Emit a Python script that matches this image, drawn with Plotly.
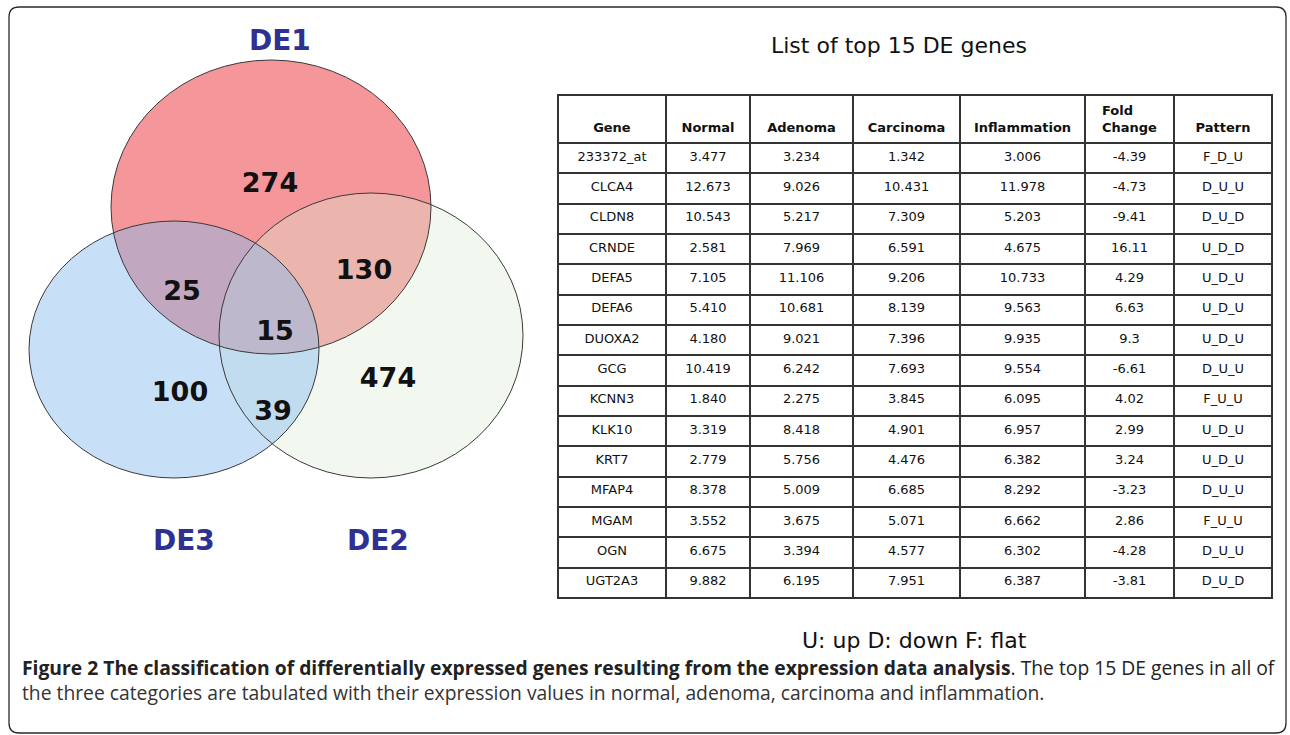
import plotly.graph_objects as go

# ---------------- data ----------------
set_names = ["DE1", "DE2", "DE3"]
region_names = ["DE1 only", "DE1&DE2", "DE1&DE3", "DE1&DE2&DE3", "DE2 only", "DE3 only", "DE2&DE3"]
region_counts = [274, 130, 25, 15, 474, 100, 39]

table_title = "List of top 15 DE genes"
legend_text = "U: up D: down F: flat"
col_headers = ["Gene", "Normal", "Adenoma", "Carcinoma", "Inflammation", "Fold<br>Change", "Pattern"]

genes = ["233372_at", "CLCA4", "CLDN8", "CRNDE", "DEFA5", "DEFA6", "DUOXA2", "GCG",
         "KCNN3", "KLK10", "KRT7", "MFAP4", "MGAM", "OGN", "UGT2A3"]
normal = [3.477, 12.673, 10.543, 2.581, 7.105, 5.410, 4.180, 10.419, 1.840, 3.319, 2.779, 8.378, 3.552, 6.675, 9.882]
adenoma = [3.234, 9.026, 5.217, 7.969, 11.106, 10.681, 9.021, 6.242, 2.275, 8.418, 5.756, 5.009, 3.675, 3.394, 6.195]
carcinoma = [1.342, 10.431, 7.309, 6.591, 9.206, 8.139, 7.396, 7.693, 3.845, 4.901, 4.476, 6.685, 5.071, 4.577, 7.951]
inflammation = [3.006, 11.978, 5.203, 4.675, 10.733, 9.563, 9.935, 9.554, 6.095, 6.957, 6.382, 8.292, 6.662, 6.302, 6.387]
fold_change = [-4.39, -4.73, -9.41, 16.11, 4.29, 6.63, 9.3, -6.61, 4.02, 2.99, 3.24, -3.23, 2.86, -4.28, -3.81]
pattern = ["F_D_U", "D_U_U", "D_U_D", "U_D_D", "U_D_U", "U_D_U", "U_D_U", "D_U_U",
           "F_U_U", "U_D_U", "U_D_U", "D_U_U", "F_U_U", "D_U_U", "D_U_D"]

caption_bold = "Figure 2 The classification of differentially expressed genes resulting from the expression data analysis"
caption_rest1 = ". The top 15 DE genes in all of"
caption_line2 = "the three categories are tabulated with their expression values in normal, adenoma, carcinoma and inflammation."

# ---------------- layout (pixel space) ----------------
W, H = 1290, 735
ellipse_boxes = {  # x0, y0, x1, y1
    "DE1": (111, 60, 431, 354),
    "DE2": (219, 193, 523, 478),
    "DE3": (29, 221, 319, 478),
}
ellipse_fill = {
    "DE1": "rgba(244,150,154,1)",
    "DE2": "rgba(220,236,212,0.36)",
    "DE3": "rgba(136,188,238,0.46)",
}
draw_order = ["DE1", "DE2", "DE3"]
set_label_pos = {"DE1": (280, 40), "DE2": (378, 540), "DE3": (184, 540)}
region_pos = [(270, 185), (364, 272), (182, 293), (275, 333), (388, 380), (180, 394), (273, 413)]

table_x = (558, 1272)
table_y = (95, 597)
col_widths = [108, 84, 103, 107, 125, 89, 98]
header_h = 47
row_h = (table_y[1] - table_y[0] - header_h) / len(genes)

fig = go.Figure()

shapes = []
# outer rounded frame
r = 10
x0, y0, x1, y1 = 9, 7, 1286, 733
shapes.append(dict(
    type="path", xref="x", yref="y",
    path=(f"M {x0+r},{y0} L {x1-r},{y0} Q {x1},{y0} {x1},{y0+r} L {x1},{y1-r} "
          f"Q {x1},{y1} {x1-r},{y1} L {x0+r},{y1} Q {x0},{y1} {x0},{y1-r} "
          f"L {x0},{y0+r} Q {x0},{y0} {x0+r},{y0} Z"),
    line=dict(color="#2a2a2a", width=1.3), fillcolor="rgba(0,0,0,0)", layer="below"))

for s in draw_order:
    bx0, by0, bx1, by1 = ellipse_boxes[s]
    shapes.append(dict(type="circle", xref="x", yref="y", x0=bx0, y0=by0, x1=bx1, y1=by1,
                       fillcolor=ellipse_fill[s], line=dict(width=0), layer="below"))
for s in draw_order:
    bx0, by0, bx1, by1 = ellipse_boxes[s]
    shapes.append(dict(type="circle", xref="x", yref="y", x0=bx0, y0=by0, x1=bx1, y1=by1,
                       fillcolor="rgba(0,0,0,0)", line=dict(color="#3a3a3a", width=1), layer="below"))

# region counts
fig.add_trace(go.Scatter(
    x=[p[0] for p in region_pos], y=[p[1] for p in region_pos],
    mode="text", text=[str(c) for c in region_counts],
    textfont=dict(family="DejaVu Sans", size=27, color="#111111", weight="bold"),
    hovertext=region_names, hoverinfo="text", showlegend=False))

annotations = []
for s in set_names:
    px, py = set_label_pos[s]
    annotations.append(dict(x=px, y=py, xref="x", yref="y", text=f"<b>{s}</b>", showarrow=False,
                            font=dict(family="DejaVu Sans", size=28, color="#2e3192")))

annotations.append(dict(x=899, y=45, xref="x", yref="y", text=table_title, showarrow=False,
                        font=dict(family="DejaVu Sans", size=22, color="#111111")))
annotations.append(dict(x=914, y=640, xref="x", yref="y", text=legend_text, showarrow=False,
                        font=dict(family="DejaVu Sans", size=22, color="#111111")))
annotations.append(dict(x=20, y=667, xref="x", yref="y", xanchor="left", showarrow=False,
                        text=f"<b>{caption_bold}</b>{caption_rest1}",
                        font=dict(family="Open Sans", size=19.3, color="#222222")))
annotations.append(dict(x=20, y=692, xref="x", yref="y", xanchor="left", showarrow=False,
                        text=caption_line2,
                        font=dict(family="Open Sans", size=19.3, color="#333333")))

hdr = [f"<b>{h}</b>" if "<br>" in h else f"<b>\u00a0<br>{h}</b>" for h in col_headers]
fig.add_trace(go.Table(
    domain=dict(x=[table_x[0] / W, table_x[1] / W], y=[1 - (table_y[1] + 4) / H, 1 - table_y[0] / H]),
    columnwidth=col_widths,
    header=dict(values=hdr, height=header_h, align="center",
                line=dict(color="#333333", width=2), fill=dict(color="white"),
                font=dict(family="DejaVu Sans", size=13, color="#111111")),
    cells=dict(values=[genes, normal, adenoma, carcinoma, inflammation, fold_change, pattern],
               format=[None, ".3f", ".3f", ".3f", ".3f", None, None],
               height=row_h, align="center",
               line=dict(color="#333333", width=2), fill=dict(color="white"),
               font=dict(family="DejaVu Sans", size=13, color="#111111")),
))

fig.update_layout(
    width=W, height=H, margin=dict(l=0, r=0, t=0, b=0),
    paper_bgcolor="white", plot_bgcolor="white",
    xaxis=dict(range=[0, W], visible=False, domain=[0, 1], fixedrange=True),
    yaxis=dict(range=[H, 0], visible=False, domain=[0, 1], fixedrange=True),
    shapes=shapes, annotations=annotations, showlegend=False,
)

fig.write_html("out.html", config={"displayModeBar": False},
               post_script="document.body.style.margin='0';document.body.style.overflow='hidden';")
